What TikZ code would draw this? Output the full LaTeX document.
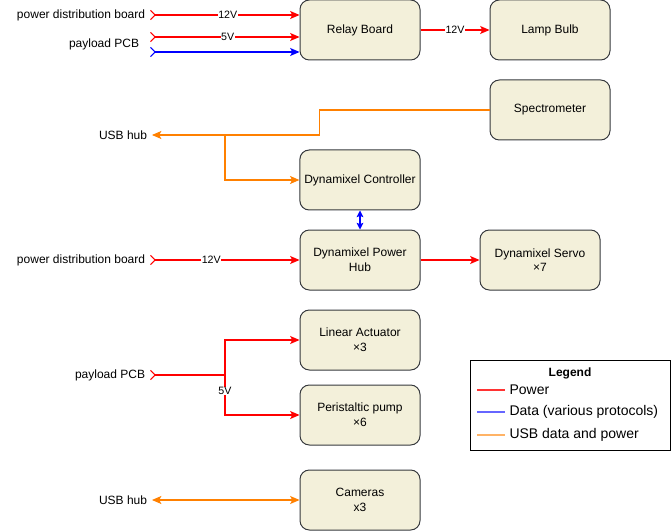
\documentclass[tikz,border=0pt]{standalone}
\usepackage{fontspec}
\setmainfont{Liberation Sans}
\usetikzlibrary{arrows.meta,positioning}
\definecolor{boxfill}{RGB}{243,240,218}
\definecolor{boxline}{RGB}{54,57,61}
\definecolor{pwrline}{RGB}{255,0,0}
\definecolor{datline}{RGB}{0,0,255}
\definecolor{usbline}{RGB}{255,128,0}
\definecolor{pwrkey}{RGB}{255,51,51}
\definecolor{datkey}{RGB}{102,102,255}
\definecolor{usbkey}{RGB}{255,179,102}
\begin{document}
\begin{tikzpicture}[x=0.75pt,y=-0.75pt,font=\fontsize{9}{11}\selectfont,
  block/.style={draw=boxline,fill=boxfill,rounded corners=7pt,line width=0.75pt,
    minimum width=90pt,minimum height=45pt,align=center},
  src/.style={anchor=east,inner xsep=3.5pt,inner ysep=0pt},
  wire/.style={line width=0.8pt,-{Stealth[length=7pt,width=6pt,inset=1.5pt]}},
  feed/.style={line width=0.8pt,
    arrows={Straight Barb[reversed,length=3.5pt,width=7pt]-Stealth[length=7pt,width=6pt,inset=1.5pt]}},
  both/.style={line width=0.8pt,
    arrows={Stealth[length=7pt,width=6pt,inset=1.5pt]-Stealth[length=7pt,width=6pt,inset=1.5pt]}},
  volt/.style={fill=white,text=black,inner sep=0.5pt,font=\fontsize{8}{9}\selectfont},
  keytext/.style={right,text=black,inner xsep=3pt,font=\fontsize{10.5}{12}\selectfont}]
  \useasboundingbox (0,0) rectangle (671,531);
   % blocks
   \node[block] (relay) at (360,30) {Relay Board};
   \node[block] (lamp) at (550,30) {Lamp Bulb};
   \node[block] (spec) at (550,110) {Spectrometer};
   \node[block] (ctrl) at (360,180) {Dynamixel Controller};
   \node[block] (hub) at (360,260) {Dynamixel Power\\Hub};
   \node[block] (servo) at (540,260) {Dynamixel Servo\\×7};
   \node[block] (lin) at (360,340) {Linear Actuator\\×3};
   \node[block] (pump) at (360,415) {Peristaltic pump\\×6};
   \node[block] (cam) at (360,500) {Cameras\\x3};
   % sources
   \node[src] (pdbA) at (150,15) {power distribution board};
   \node[src] (pcbA) at (144,44) {payload PCB};
   \coordinate (pcbV) at (150,37);
   \coordinate (pcbD) at (150,52);
   \node[src] (usbA) at (152,135) {USB hub};
   \node[src] (pdbB) at (150,260) {power distribution board};
   \node[src] (pcbB) at (150,375) {payload PCB};
   \node[src] (usbB) at (152,500) {USB hub};
   \coordinate (tap) at (225,135);
   \coordinate (split) at (225,375);
   % power
   \draw[feed,color=pwrline] (pdbA.east) -- node[volt,pos=0.52] {12V} (relay.west |- pdbA.east);
   \draw[feed,color=pwrline] (pcbV) -- node[volt,pos=0.52] {5V} (relay.west |- pcbV);
   \draw[wire,color=pwrline] (relay) -- node[volt] {12V} (lamp);
   \draw[feed,color=pwrline] (pdbB.east) -- node[volt,pos=0.41] {12V} (hub);
   \draw[wire,color=pwrline] (hub) -- (servo);
   \draw[wire,color=pwrline] (split) |- (lin.west);
   \draw[wire,color=pwrline] (split) |- node[volt,pos=0.2] {5V} (pump.west);
   \draw[line width=0.8pt,color=pwrline,arrows={Straight Barb[reversed,length=3.5pt,width=7pt]-}] (pcbB.east) -- (split);
   % data
   \draw[feed,color=datline] (pcbD) -- (relay.west |- pcbD);
   \draw[line width=0.8pt,color=datline,arrows={Stealth[length=5pt,width=5pt,inset=1pt]-Stealth[length=5pt,width=5pt,inset=1pt]}] (ctrl) -- (hub);
   % usb
   \draw[wire,color=usbline] (spec.west) -- ++(-170,0) |- (usbA.east);
   \draw[wire,color=usbline] (tap) |- (ctrl.west);
   \draw[both,color=usbline] (usbB.east) -- (cam);
   % legend
   \draw[line width=0.75pt,fill=white] (470,360) rectangle (670,450);
   \node[font=\fontsize{9}{11}\selectfont\bfseries] (legtitle) at (570,373) {Legend};
   \draw[line width=0.8pt,color=pwrkey] (477,390) -- (505,390) node[keytext] {Power};
   \draw[line width=0.8pt,color=datkey] (477,412) -- (505,412) node[keytext] {Data (various protocols)};
   \draw[line width=0.8pt,color=usbkey] (477,435) -- (505,435) node[keytext] {USB data and power};
\end{tikzpicture}
\end{document}
